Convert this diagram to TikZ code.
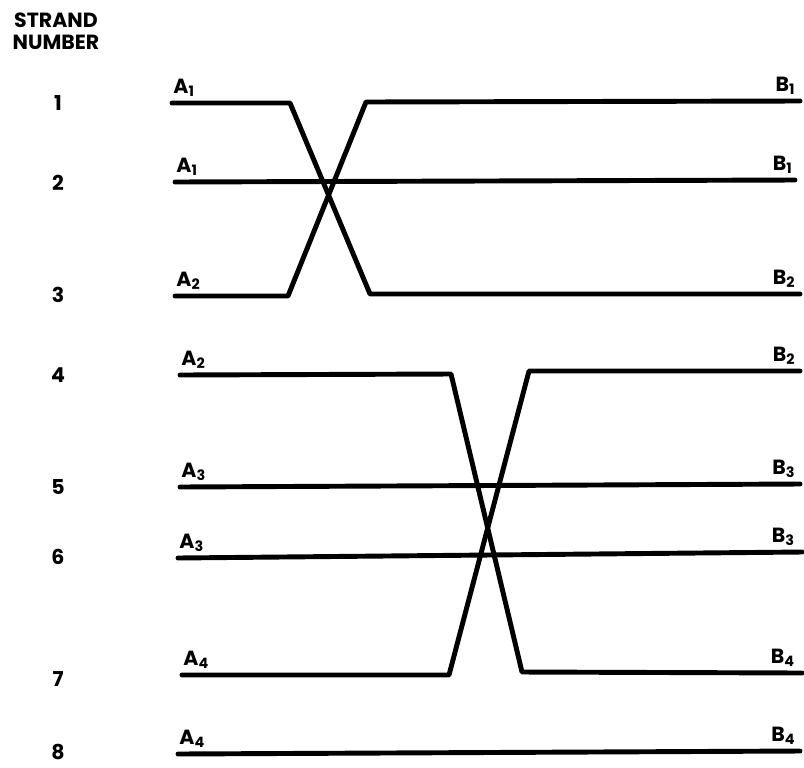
\documentclass[tikz,border=0pt]{standalone}
\usepackage{fontspec}
\setmainfont{Poppins}
\usetikzlibrary{positioning}

\begin{document}
\begin{tikzpicture}[x=0.3mm,y=-0.3mm,line cap=round,line join=round]
    \tikzstyle{strand}=[line width=4.2pt]
    \tikzstyle{lbl}=[font=\fontsize{17.5}{18.7}\selectfont\bfseries,inner sep=0pt]
    \useasboundingbox (0,0) rectangle (804,767);
    % header and strand numbers
    \node[lbl,align=center] (head) at (56,31) {STRAND\\NUMBER};
    \foreach \n/\y in {1/103,2/183,3/295,4/375,5/487,6/557,7/679,8/752}
      \node[lbl] (n\n) at (58,\y) {\n};
    % strand end points
    \coordinate (a1) at (172,103);  \coordinate (b1) at (800,101);
    \coordinate (a2) at (175,182);  \coordinate (b2) at (795,180);
    \coordinate (a3) at (175,296);  \coordinate (b3) at (800,294);
    \coordinate (a4) at (180,375);  \coordinate (b4) at (800,371);
    \coordinate (a5) at (180,487);  \coordinate (b5) at (800,484);
    \coordinate (a6) at (178,558);  \coordinate (b6) at (802,552);
    \coordinate (a7) at (182,675);  \coordinate (b7) at (802,673);
    \coordinate (a8) at (178,754);  \coordinate (b8) at (800,751);
    % bends of the two transpositions
    \coordinate (k1) at (290,103);  \coordinate (k2) at (370,294);
    \coordinate (k3) at (288,296);  \coordinate (k4) at (366,102);
    \coordinate (k5) at (451,374);  \coordinate (k6) at (522,672);
    \coordinate (k7) at (449,675);  \coordinate (k8) at (529,371);
    % strands
    \draw[strand] (a1) -- (k1) -- (k2) -- (b3);
    \draw[strand] (a3) -- (k3) -- (k4) -- (b1);
    \draw[strand] (a2) -- (b2);
    \draw[strand] (a4) -- (k5) -- (k6) -- (b7);
    \draw[strand] (a7) -- (k7) -- (k8) -- (b4);
    \draw[strand] (a5) -- (b5);
    \draw[strand] (a6) -- (b6);
    \draw[strand] (a8) -- (b8);
    % end labels
    \node[lbl,above right=5pt and 1pt of a1] (la1) {A\textsubscript{1}};
    \node[lbl,above right=5pt and 1pt of a2] (la2) {A\textsubscript{1}};
    \node[lbl,above right=5pt and 1pt of a3] (la3) {A\textsubscript{2}};
    \node[lbl,above right=5pt and 1pt of a4] (la4) {A\textsubscript{2}};
    \node[lbl,above right=5pt and 1pt of a5] (la5) {A\textsubscript{3}};
    \node[lbl,above right=5pt and 1pt of a6] (la6) {A\textsubscript{3}};
    \node[lbl,above right=5pt and 1pt of a7] (la7) {A\textsubscript{4}};
    \node[lbl,above right=5pt and 1pt of a8] (la8) {A\textsubscript{4}};
    \node[lbl,above left=5pt and 4pt of b1] (lb1) {B\textsubscript{1}};
    \node[lbl,above left=5pt and 2pt of b2] (lb2) {B\textsubscript{1}};
    \node[lbl,above left=5pt and 4pt of b3] (lb3) {B\textsubscript{2}};
    \node[lbl,above left=5pt and 4pt of b4] (lb4) {B\textsubscript{2}};
    \node[lbl,above left=5pt and 4pt of b5] (lb5) {B\textsubscript{3}};
    \node[lbl,above left=5pt and 6pt of b6] (lb6) {B\textsubscript{3}};
    \node[lbl,above left=5pt and 6pt of b7] (lb7) {B\textsubscript{4}};
    \node[lbl,above left=5pt and 4pt of b8] (lb8) {B\textsubscript{4}};
  \end{tikzpicture}
\end{document}
